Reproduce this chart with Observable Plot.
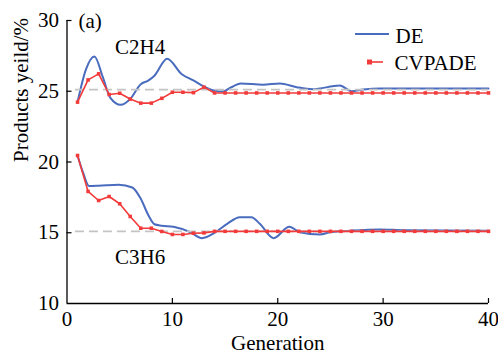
<!DOCTYPE html>
<html>
<head>
<meta charset="utf-8">
<script src="https://cdn.jsdelivr.net/npm/d3@7"></script>
<script src="https://cdn.jsdelivr.net/npm/@observablehq/plot@0.6"></script>
<style>
  html, body { margin: 0; padding: 0; background: #fff; }
  #chart { width: 498px; height: 354px; }
</style>
</head>
<body>
<div id="chart"></div>
<script>
// Generations for the CVPADE series (markers at each generation)
const generations = d3.range(1, 41);

// CVPADE C2H4 yield (%), generations 1..40
const cvpadeC2H4 = [24.23, 25.8, 26.23, 24.77, 24.86, 24.45, 24.16, 24.16, 24.5, 24.93,
  24.93, 24.9, 25.29, 24.88, 24.88, 24.88, 24.88, 24.88, 24.88, 24.88,
  24.88, 24.88, 24.88, 24.88, 24.88, 24.88, 24.88, 24.88, 24.88, 24.88,
  24.88, 24.88, 24.88, 24.88, 24.88, 24.88, 24.88, 24.88, 24.88, 24.88];

// CVPADE C3H6 yield (%), generations 1..40
const cvpadeC3H6 = [20.46, 17.92, 17.28, 17.56, 17.05, 16.15, 15.32, 15.32, 15.09, 14.88,
  14.88, 14.97, 14.99, 15.1, 15.1, 15.1, 15.1, 15.1, 15.1, 15.1,
  15.1, 15.1, 15.1, 15.1, 15.1, 15.1, 15.1, 15.1, 15.1, 15.1,
  15.1, 15.1, 15.1, 15.1, 15.1, 15.1, 15.1, 15.1, 15.1, 15.1];

// DE C2H4 smooth curve, read at points along the curve
const deGenC2H4 = [1, 1.8, 2.6, 3.4, 4.1, 5.1, 6.0, 7.0, 7.7, 8.3, 9.5, 10.9, 12, 13, 14.3, 14.8, 15.5, 16.5, 18.6, 20.2, 21.8, 23.3, 25.9, 27, 28.1, 29.7, 40];
const deC2H4    = [24.23, 26.55, 27.46, 26.0, 24.55, 24.04, 24.45, 25.5, 25.75, 26.1, 27.3, 26.2, 25.76, 25.33, 25.0, 24.98, 25.25, 25.55, 25.46, 25.55, 25.29, 25.15, 25.4, 25.0, 25.12, 25.2, 25.2];

// DE C3H6 smooth curve, read at points along the curve
const deGenC3H6 = [1, 1.5, 2.1, 3, 4.9, 6.2, 7, 7.75, 8.3, 9, 10.1, 11.7, 12.8, 14.1, 15.2, 16.4, 17.5, 18.3, 19.6, 21.1, 22.1, 24, 25, 27, 29.7, 32, 40];
const deC3H6    = [20.46, 19.3, 18.3, 18.32, 18.4, 18.2, 17.4, 16.2, 15.6, 15.5, 15.42, 15.04, 14.62, 15.04, 15.63, 16.1, 16.1, 15.63, 14.62, 15.42, 15.04, 14.88, 15.04, 15.15, 15.23, 15.18, 15.15];

// Reference (target) levels
const refLevels = [25.12, 15.1];

// Axis ticks
const xTicks = [0, 10, 20, 30, 40];
const yTicks = [10, 15, 20, 25, 30];

const cvpade = generations.flatMap((g, i) => [
  {gen: g, val: cvpadeC2H4[i], prod: "C2H4"},
  {gen: g, val: cvpadeC3H6[i], prod: "C3H6"}
]);
const de = [
  ...deGenC2H4.map((g, i) => ({gen: g, val: deC2H4[i], prod: "C2H4"})),
  ...deGenC3H6.map((g, i) => ({gen: g, val: deC3H6[i], prod: "C3H6"}))
];

const BLUE = "#4a6cbe";
const RED = "#f23a3a";
const W = 498, H = 354;
const mL = 66.5, mR = 10, mT = 20, mB = 51;
const plotW = W - mL - mR, plotH = H - mT - mB;
const FS = 21;

const plot = Plot.plot({
  width: W,
  height: H,
  marginLeft: mL,
  marginRight: mR,
  marginTop: mT,
  marginBottom: mB,
  style: {fontFamily: "'Liberation Serif', serif", fontSize: FS + "px", color: "#000", background: "#fff"},
  x: {domain: [0, 40], ticks: xTicks, tickSize: 0, tickPadding: 8, label: null},
  y: {domain: [10, 30], ticks: yTicks, tickSize: 0, tickPadding: 8, label: null},
  marks: [
    Plot.line(de, {x: "gen", y: "val", z: "prod", stroke: BLUE, strokeWidth: 2, curve: "monotone-x"}),
    Plot.ruleY(refLevels, {x1: 0.8, x2: 40, stroke: "#c4c4c4", strokeWidth: 1.8, strokeDasharray: "9,5"}),
    Plot.line(cvpade, {x: "gen", y: "val", z: "prod", stroke: RED, strokeWidth: 1.6}),
    Plot.dot(cvpade, {x: "gen", y: "val", symbol: "square", r: 2, fill: RED, stroke: "none"}),
    // axis lines
    Plot.ruleX([0], {stroke: "#000", strokeWidth: 1.3}),
    Plot.ruleY([10], {stroke: "#000", strokeWidth: 1.3}),
    // inward ticks
    Plot.ruleX(xTicks.slice(1), {insetTop: plotH - 5, stroke: "#000", strokeWidth: 1.2}),
    Plot.ruleY(yTicks.slice(1), {insetRight: plotW - 5, stroke: "#000", strokeWidth: 1.2}),
    // annotations
    Plot.text(["(a)"], {frameAnchor: "top-left", dx: 11.5, dy: 7, textAnchor: "start", lineAnchor: "bottom", fontSize: FS}),
    Plot.text(["C2H4"], {frameAnchor: "top-left", dx: 48, dy: 33, textAnchor: "start", lineAnchor: "bottom", fontSize: FS}),
    Plot.text(["C3H6"], {frameAnchor: "top-left", dx: 48, dy: 243, textAnchor: "start", lineAnchor: "bottom", fontSize: FS}),
    Plot.text(["DE"], {frameAnchor: "top-left", dx: 328.5, dy: 22, textAnchor: "start", lineAnchor: "bottom", fontSize: FS}),
    Plot.text(["CVPADE"], {frameAnchor: "top-left", dx: 327.5, dy: 49, textAnchor: "start", lineAnchor: "bottom", fontSize: FS}),
    // axis titles
    Plot.text(["Generation"], {frameAnchor: "bottom", dy: 46, lineAnchor: "bottom", fontSize: FS}),
    Plot.text(["Products yeild/%"], {frameAnchor: "left", dx: -39.5, rotate: -90, lineAnchor: "bottom", fontSize: FS})
  ]
});

// legend swatches
const svg = d3.select(plot);
svg.append("line").attr("x1", 355).attr("x2", 389).attr("y1", 34).attr("y2", 34)
  .attr("stroke", BLUE).attr("stroke-width", 2);
svg.append("line").attr("x1", 367).attr("x2", 383).attr("y1", 62).attr("y2", 62)
  .attr("stroke", RED).attr("stroke-width", 1.6);
svg.append("rect").attr("x", 367).attr("y", 59.5).attr("width", 5).attr("height", 5)
  .attr("fill", RED);

document.getElementById("chart").appendChild(plot);
</script>
</body>
</html>
